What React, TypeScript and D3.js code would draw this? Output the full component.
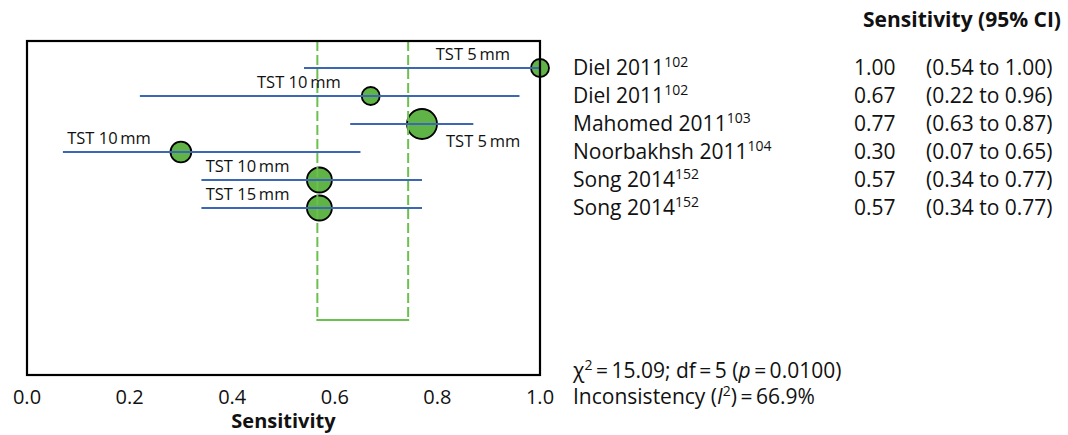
import React from "react";
import * as d3 from "d3";

// Study-level sensitivity estimates with 95% confidence intervals
const studies = ["Diel 2011", "Diel 2011", "Mahomed 2011", "Noorbakhsh 2011", "Song 2014", "Song 2014"];
const refs = ["102", "102", "103", "104", "152", "152"];
const thresholds = ["TST 5\u2009mm", "TST 10\u2009mm", "TST 5\u2009mm", "TST 10\u2009mm", "TST 10\u2009mm", "TST 15\u2009mm"];
const sensitivity = [1.0, 0.67, 0.77, 0.3, 0.57, 0.57];
const ciLow = [0.54, 0.22, 0.63, 0.07, 0.34, 0.34];
const ciHigh = [1.0, 0.96, 0.87, 0.65, 0.77, 0.77];
// Number of diseased participants per study (drives marker size)
const cases = [6, 6, 52, 10, 21, 21];
// Pooled sensitivity interval shown as the dashed bracket
const pooledCI = [0.566, 0.743];
const xTicks = [0, 0.2, 0.4, 0.6, 0.8, 1.0];

const chiSq = "15.09";
const df = "5";
const pValue = "0.0100";
const inconsistency = "66.9%";

const FONT = "'Open Sans', 'Noto Sans', sans-serif";
const BLUE = "#3c67b3";
const GREEN = "#60b347";
const GREEN_LINE = "#6cc04e";
const INK = "#111";

export default function App() {
  const W = 1068;
  const H = 435;
  const box = { left: 27, top: 41, right: 540, bottom: 375 };

  const x = d3.scaleLinear().domain([0, 1]).range([box.left, box.right]);
  const rows = d3.range(studies.length);
  const y = d3.scalePoint<number>().domain(rows).range([68, 208]);
  const r = d3.scaleLog().domain([6, 52]).range([9, 15]);

  const bracketY = 320;
  const labelFs = 16.5;
  const tableFs = 21;
  const supFs = 14;
  const fmt2 = d3.format(".2f");

  return (
    <svg width={W} height={H} style={{ position: "absolute", left: 0, top: 0, background: "#fff" }} fontFamily={FONT}>
      {/* point estimates */}
      {rows.map((i) => (
        <circle key={i} cx={x(sensitivity[i])} cy={y(i)!} r={r(cases[i])} fill={GREEN} stroke="#000" strokeWidth={1.8} />
      ))}

      {/* pooled interval bracket */}
      <g stroke={GREEN_LINE} strokeWidth={2} fill="none">
        {pooledCI.map((v, i) => (
          <line key={i} x1={x(v)} x2={x(v)} y1={box.top} y2={bracketY} strokeDasharray="10,4" />
        ))}
        <line x1={x(pooledCI[0]) - 1} x2={x(pooledCI[1]) + 1} y1={bracketY} y2={bracketY} />
      </g>

      {/* confidence intervals and threshold labels */}
      {rows.map((i) => {
        const cy = y(i)!;
        const cx = x(sensitivity[i]);
        const below = i === 2;
        return (
          <g key={i}>
            <line x1={x(ciLow[i])} x2={x(ciHigh[i])} y1={cy} y2={cy} stroke={BLUE} strokeWidth={2} />
            <text
              x={below ? cx + 24 : cx - 30}
              y={below ? cy + 23 : cy - 8}
              textAnchor={below ? "start" : "end"}
              fontSize={labelFs}
              fill={INK}
            >
              {thresholds[i]}
            </text>
          </g>
        );
      })}

      {/* plot frame */}
      <rect
        x={box.left}
        y={box.top}
        width={box.right - box.left}
        height={box.bottom - box.top}
        fill="none"
        stroke="#000"
        strokeWidth={2.2}
      />

      {/* x axis */}
      {xTicks.map((t) => (
        <text key={t} x={x(t)} y={404} textAnchor="middle" fontSize={20} fill={INK}>
          {d3.format(".1f")(t)}
        </text>
      ))}
      <text x={(box.left + box.right) / 2} y={428} textAnchor="middle" fontSize={20} fontWeight="bold" fill={INK}>
        Sensitivity
      </text>

      {/* study table */}
      <text x={1061} y={27} textAnchor="end" fontSize={21} fontWeight="bold" fill={INK}>
        Sensitivity (95% CI)
      </text>
      {rows.map((i) => {
        const by = y(i)! + 7;
        return (
          <g key={i} fontSize={tableFs} fill={INK}>
            <text x={573} y={by}>
              {studies[i]}
              <tspan fontSize={supFs} dy={-8}>{refs[i]}</tspan>
            </text>
            <text x={854} y={by}>{fmt2(sensitivity[i])}</text>
            <text x={926} y={by}>
              ({fmt2(ciLow[i])} to {fmt2(ciHigh[i])})
            </text>
          </g>
        );
      })}

      {/* heterogeneity statistics */}
      <text x={573} y={378} fontSize={21} fill={INK}>
        χ<tspan fontSize={supFs} dy={-8}>2</tspan>
        <tspan dy={8}>{"\u2009=\u2009" + chiSq + "; df\u2009=\u2009" + df + " ("}</tspan>
        <tspan fontStyle="italic">p</tspan>
        {"\u2009=\u2009" + pValue + ")"}
      </text>
      <text x={573} y={404} fontSize={21} fill={INK}>
        {"Inconsistency ("}
        <tspan fontStyle="italic">I</tspan>
        <tspan fontSize={supFs} dy={-8}>2</tspan>
        <tspan dy={8}>{")\u2009=\u2009" + inconsistency}</tspan>
      </text>
    </svg>
  );
}
